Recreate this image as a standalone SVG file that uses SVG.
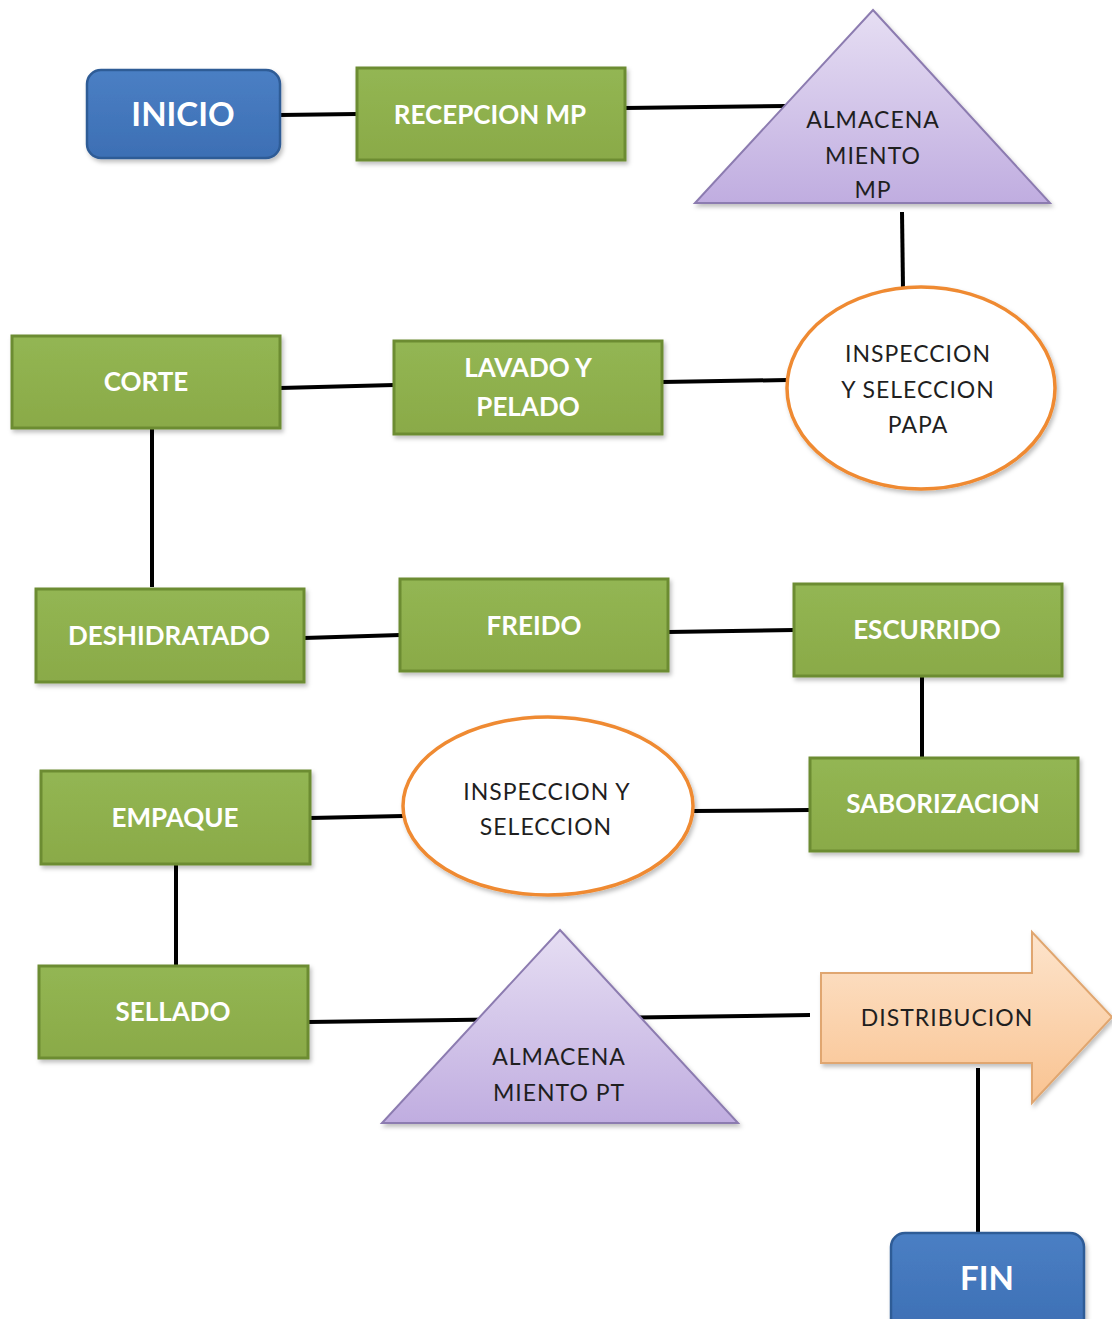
<svg xmlns="http://www.w3.org/2000/svg" width="1112" height="1319" viewBox="0 0 1112 1319">
<defs>
<linearGradient id="gGreen" x1="0" y1="0" x2="0" y2="1">
<stop offset="0" stop-color="#93b653"/><stop offset="1" stop-color="#8aaa48"/>
</linearGradient>
<linearGradient id="gBlue" x1="0" y1="0" x2="0" y2="1">
<stop offset="0" stop-color="#4a7fc4"/><stop offset="1" stop-color="#3d6fb4"/>
</linearGradient>
<linearGradient id="gLav" x1="0" y1="0" x2="0" y2="1">
<stop offset="0" stop-color="#e6def3"/><stop offset="1" stop-color="#c0ade0"/>
</linearGradient>
<linearGradient id="gPeach" x1="0" y1="0" x2="0" y2="1">
<stop offset="0" stop-color="#fde4cc"/><stop offset="1" stop-color="#f9c391"/>
</linearGradient>
<filter id="sh" x="-10%" y="-10%" width="130%" height="130%">
<feDropShadow dx="2" dy="3" stdDeviation="2" flood-color="#000" flood-opacity="0.25"/>
</filter>
<style>
.conn{stroke:#000;stroke-width:4;fill:none;stroke-linecap:butt}
.green{fill:url(#gGreen);stroke:#6c8c33;stroke-width:3;filter:url(#sh)}
.blue{fill:url(#gBlue);stroke:#2f5b96;stroke-width:2.5;filter:url(#sh)}
.lav{fill:url(#gLav);stroke:#8c7bb0;stroke-width:2;filter:url(#sh)}
.oval{fill:#ffffff;stroke:#ef8a31;stroke-width:3.5;filter:url(#sh)}
.peach{fill:url(#gPeach);stroke:#e0a66f;stroke-width:2;filter:url(#sh)}
.wt{font-family:Lato,"Liberation Sans",sans-serif;font-weight:bold;fill:#ffffff;text-anchor:middle;font-size:26px}
.bt{font-family:Lato,"Liberation Sans",sans-serif;fill:#1f1f1f;text-anchor:middle;font-size:23px;letter-spacing:1px}
</style>
</defs>

<g id="connectors">
<line class="conn" x1="280" y1="115" x2="357" y2="114"/>
<line class="conn" x1="625" y1="108" x2="785" y2="106"/>
<line class="conn" x1="902" y1="212" x2="903" y2="288"/>
<line class="conn" x1="787" y1="380" x2="662" y2="382"/>
<line class="conn" x1="394" y1="385" x2="280" y2="388"/>
<line class="conn" x1="152" y1="428" x2="152" y2="587"/>
<line class="conn" x1="304" y1="638" x2="400" y2="635"/>
<line class="conn" x1="668" y1="632" x2="794" y2="630"/>
<line class="conn" x1="922" y1="676" x2="922" y2="758"/>
<line class="conn" x1="810" y1="810" x2="693" y2="811"/>
<line class="conn" x1="403" y1="816" x2="310" y2="818"/>
<line class="conn" x1="176" y1="864" x2="176" y2="966"/>
<line class="conn" x1="308" y1="1022" x2="810" y2="1015"/>
<line class="conn" x1="978" y1="1068" x2="978" y2="1235"/>
</g>

<g id="inicio">
<rect class="blue" x="87" y="70" width="193" height="88" rx="14"/>
<text class="wt" x="183" y="126" style="font-size:33px">INICIO</text>
</g>

<g id="recepcion">
<rect class="green" x="357" y="68" width="268" height="92"/>
<text class="wt" x="490" y="124">RECEPCION MP</text>
</g>

<g id="almacenamiento-mp">
<polygon class="lav" points="873,10 1050,203 695,203"/>
<text class="bt" x="873" y="128">ALMACENA</text>
<text class="bt" x="873" y="164">MIENTO</text>
<text class="bt" x="873" y="198">MP</text>
</g>

<g id="inspeccion-papa">
<ellipse class="oval" cx="921" cy="388" rx="134" ry="101"/>
<text class="bt" x="918" y="362">INSPECCION</text>
<text class="bt" x="918" y="398">Y SELECCION</text>
<text class="bt" x="918" y="433">PAPA</text>
</g>

<g id="lavado">
<rect class="green" x="394" y="341" width="268" height="93"/>
<text class="wt" x="528" y="377">LAVADO Y</text>
<text class="wt" x="528" y="416">PELADO</text>
</g>

<g id="corte">
<rect class="green" x="12" y="336" width="268" height="92"/>
<text class="wt" x="146" y="391">CORTE</text>
</g>

<g id="deshidratado">
<rect class="green" x="36" y="589" width="268" height="93"/>
<text class="wt" x="169" y="645">DESHIDRATADO</text>
</g>

<g id="freido">
<rect class="green" x="400" y="579" width="268" height="92"/>
<text class="wt" x="534" y="635">FREIDO</text>
</g>

<g id="escurrido">
<rect class="green" x="794" y="584" width="268" height="92"/>
<text class="wt" x="927" y="639">ESCURRIDO</text>
</g>

<g id="saborizacion">
<rect class="green" x="810" y="758" width="268" height="93"/>
<text class="wt" x="943" y="813">SABORIZACION</text>
</g>

<g id="inspeccion-seleccion">
<ellipse class="oval" cx="548" cy="806" rx="145" ry="89"/>
<text class="bt" x="547" y="800">INSPECCION Y</text>
<text class="bt" x="546" y="835">SELECCION</text>
</g>

<g id="empaque">
<rect class="green" x="41" y="771" width="269" height="93"/>
<text class="wt" x="175" y="827">EMPAQUE</text>
</g>

<g id="sellado">
<rect class="green" x="39" y="966" width="269" height="92"/>
<text class="wt" x="173" y="1021">SELLADO</text>
</g>

<g id="almacenamiento-pt">
<polygon class="lav" points="560,930 738,1123 382,1123"/>
<text class="bt" x="559" y="1065">ALMACENA</text>
<text class="bt" x="559" y="1101">MIENTO PT</text>
</g>

<g id="distribucion">
<polygon class="peach" points="821,973 1032,973 1032,932 1112,1017 1032,1103 1032,1063 821,1063"/>
<text class="bt" x="947" y="1026">DISTRIBUCION</text>
</g>

<g id="fin">
<rect class="blue" x="891" y="1233" width="193" height="100" rx="14"/>
<text class="wt" x="987" y="1290" style="font-size:33px">FIN</text>
</g>
</svg>
